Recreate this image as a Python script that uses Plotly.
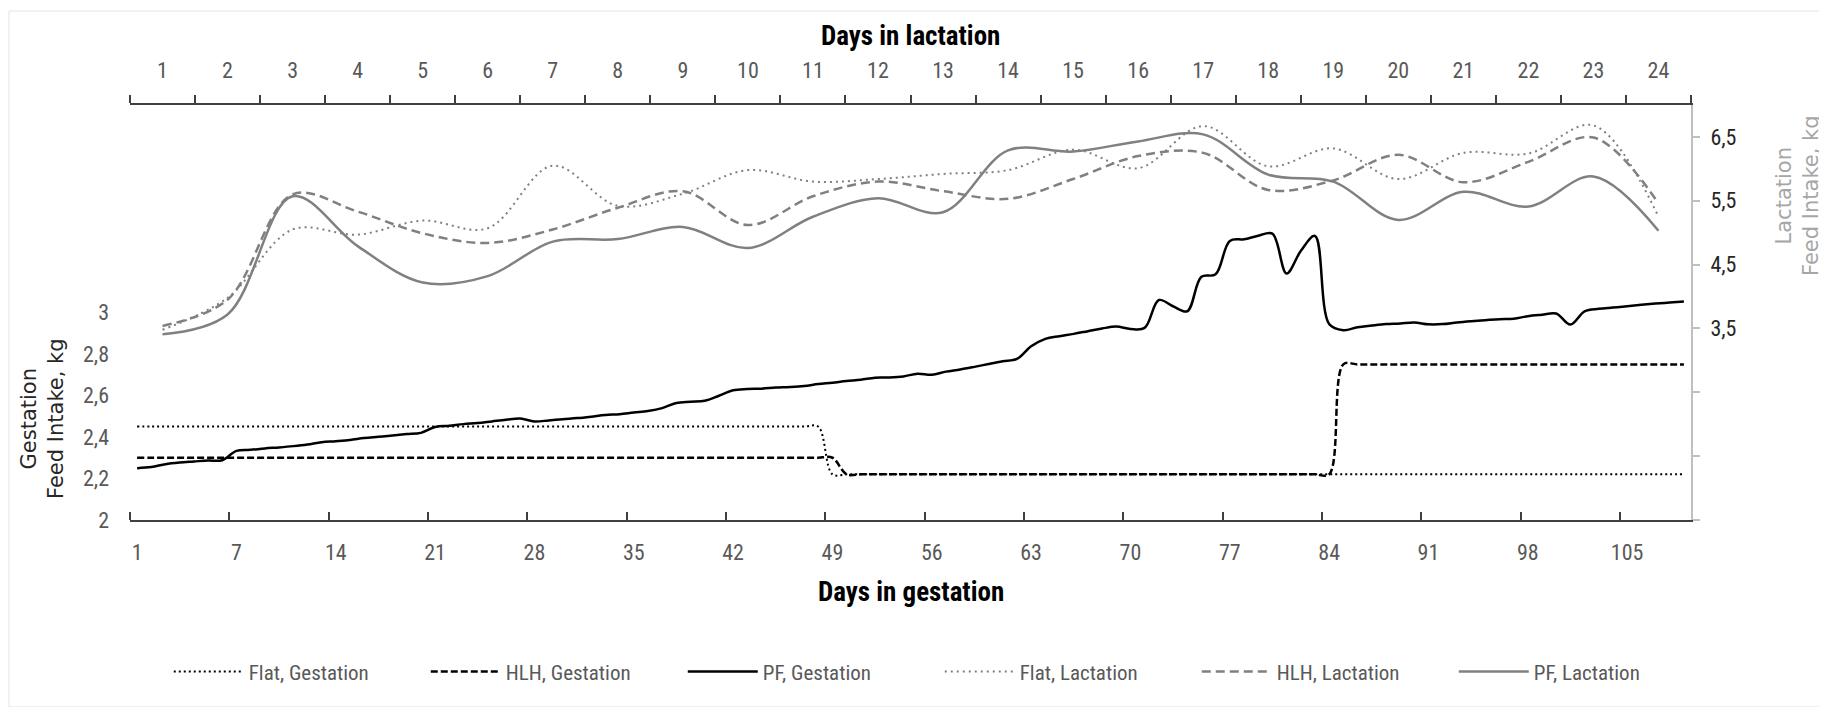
import plotly.graph_objects as go

# gestation feed intake, kg (one value per day index, 110 days)
flat_gestation = [
    2.45, 2.45, 2.45, 2.45, 2.45, 2.45, 2.45, 2.45, 2.45, 2.45,
    2.45, 2.45, 2.45, 2.45, 2.45, 2.45, 2.45, 2.45, 2.45, 2.45,
    2.45, 2.45, 2.45, 2.45, 2.45, 2.45, 2.45, 2.45, 2.45, 2.45,
    2.45, 2.45, 2.45, 2.45, 2.45, 2.45, 2.45, 2.45, 2.45, 2.45,
    2.45, 2.45, 2.45, 2.45, 2.45, 2.45, 2.45, 2.45, 2.45, 2.22,
    2.22, 2.22, 2.22, 2.22, 2.22, 2.22, 2.22, 2.22, 2.22, 2.22,
    2.22, 2.22, 2.22, 2.22, 2.22, 2.22, 2.22, 2.22, 2.22, 2.22,
    2.22, 2.22, 2.22, 2.22, 2.22, 2.22, 2.22, 2.22, 2.22, 2.22,
    2.22, 2.22, 2.22, 2.22, 2.22, 2.22, 2.22, 2.22, 2.22, 2.22,
    2.22, 2.22, 2.22, 2.22, 2.22, 2.22, 2.22, 2.22, 2.22, 2.22,
    2.22, 2.22, 2.22, 2.22, 2.22, 2.22, 2.22, 2.22, 2.22, 2.22,
]
hlh_gestation = [
    2.30, 2.30, 2.30, 2.30, 2.30, 2.30, 2.30, 2.30, 2.30, 2.30,
    2.30, 2.30, 2.30, 2.30, 2.30, 2.30, 2.30, 2.30, 2.30, 2.30,
    2.30, 2.30, 2.30, 2.30, 2.30, 2.30, 2.30, 2.30, 2.30, 2.30,
    2.30, 2.30, 2.30, 2.30, 2.30, 2.30, 2.30, 2.30, 2.30, 2.30,
    2.30, 2.30, 2.30, 2.30, 2.30, 2.30, 2.30, 2.30, 2.30, 2.30,
    2.22, 2.22, 2.22, 2.22, 2.22, 2.22, 2.22, 2.22, 2.22, 2.22,
    2.22, 2.22, 2.22, 2.22, 2.22, 2.22, 2.22, 2.22, 2.22, 2.22,
    2.22, 2.22, 2.22, 2.22, 2.22, 2.22, 2.22, 2.22, 2.22, 2.22,
    2.22, 2.22, 2.22, 2.22, 2.22, 2.75, 2.75, 2.75, 2.75, 2.75,
    2.75, 2.75, 2.75, 2.75, 2.75, 2.75, 2.75, 2.75, 2.75, 2.75,
    2.75, 2.75, 2.75, 2.75, 2.75, 2.75, 2.75, 2.75, 2.75, 2.75,
]
pf_gestation = [
    2.250, 2.255, 2.269, 2.277, 2.282, 2.287, 2.288, 2.333, 2.338, 2.345,
    2.350, 2.356, 2.364, 2.375, 2.380, 2.386, 2.395, 2.401, 2.407, 2.414,
    2.420, 2.448, 2.454, 2.462, 2.467, 2.475, 2.483, 2.489, 2.475, 2.480,
    2.486, 2.491, 2.498, 2.506, 2.510, 2.518, 2.525, 2.539, 2.564, 2.570,
    2.575, 2.599, 2.625, 2.631, 2.633, 2.638, 2.641, 2.646, 2.655, 2.662,
    2.670, 2.676, 2.686, 2.687, 2.692, 2.705, 2.700, 2.715, 2.725, 2.738,
    2.752, 2.765, 2.776, 2.837, 2.873, 2.886, 2.897, 2.910, 2.923, 2.932,
    2.921, 2.926, 3.060, 3.030, 3.006, 3.172, 3.184, 3.345, 3.353, 3.370,
    3.380, 3.188, 3.296, 3.369, 2.945, 2.915, 2.929, 2.937, 2.944, 2.947,
    2.952, 2.943, 2.944, 2.952, 2.958, 2.963, 2.968, 2.970, 2.982, 2.989,
    2.995, 2.942, 3.006, 3.018, 3.024, 3.030, 3.037, 3.043, 3.048, 3.053,
]
gestation_tick_pos = [0, 7, 14, 21, 28, 35, 42, 49, 56, 63, 70, 77, 84, 91, 98, 105]
gestation_tick_labels = ["1", "7", "14", "21", "28", "35", "42", "49",
                         "56", "63", "70", "77", "84", "91", "98", "105"]

# lactation feed intake, kg (days 1-24)
lactation_days = [str(d) for d in range(1, 25)]
flat_lactation = [3.48, 3.98, 5.05, 4.97, 5.19, 5.07, 6.05, 5.42, 5.61, 5.98, 5.80, 5.84,
                  5.92, 5.98, 6.30, 6.01, 6.67, 6.04, 6.32, 5.84, 6.25, 6.24, 6.68, 5.25]
hlh_lactation = [3.54, 3.95, 5.60, 5.33, 4.99, 4.84, 5.05, 5.39, 5.65, 5.12, 5.57, 5.80,
                 5.65, 5.53, 5.84, 6.20, 6.25, 5.67, 5.82, 6.22, 5.79, 6.11, 6.49, 5.46]
pf_lactation = [3.41, 3.72, 5.57, 4.79, 4.22, 4.32, 4.86, 4.90, 5.09, 4.76, 5.25, 5.54,
                5.32, 6.29, 6.27, 6.43, 6.54, 5.91, 5.80, 5.20, 5.64, 5.41, 5.88, 5.03]

gestation_ticks = [2, 2.2, 2.4, 2.6, 2.8, 3]
gestation_tick_text = ["2", "2,2", "2,4", "2,6", "2,8", "3"]
lactation_ticks = [0.5, 1.5, 2.5, 3.5, 4.5, 5.5, 6.5]
lactation_tick_text = ["", "", "", "3,5", "4,5", "5,5", "6,5"]

FONT = "Liberation Sans Narrow, Roboto Condensed, Roboto, sans-serif"
TITLE_FONT = "DejaVu Sans, sans-serif"
GREY = "#808080"

gest_x = list(range(len(pf_gestation)))
lact_x = list(range(len(lactation_days)))

fig = go.Figure()

gestation_series = [
    ("Flat, Gestation", flat_gestation, "2px,3px", 2),
    ("HLH, Gestation", hlh_gestation, "7px,3px", 2.5),
    ("PF, Gestation", pf_gestation, "solid", 2.5),
]
for name, values, dash, width in gestation_series:
    fig.add_trace(go.Scatter(
        x=gest_x, y=values, name=name, mode="lines",
        line=dict(color="black", width=width, dash=dash, shape="spline", smoothing=1),
        xaxis="x", yaxis="y",
    ))

lactation_series = [
    ("Flat, Lactation", flat_lactation, "2px,4px", 2),
    ("HLH, Lactation", hlh_lactation, "9px,5px", 2.5),
    ("PF, Lactation", pf_lactation, "solid", 2.5),
]
for name, values, dash, width in lactation_series:
    fig.add_trace(go.Scatter(
        x=lact_x, y=values, name=name, mode="lines",
        line=dict(color=GREY, width=width, dash=dash, shape="spline", smoothing=1),
        xaxis="x2", yaxis="y2",
    ))

fig.update_layout(
    width=1827, height=707,
    margin=dict(l=122, r=144, t=97, b=195),
    paper_bgcolor="white", plot_bgcolor="white",
    font=dict(family=FONT, size=22, color="#595959"),
    showlegend=True,
    legend=dict(orientation="h", xref="container", yref="container",
                x=0.51, xanchor="center", y=0.061, yanchor="middle",
                font=dict(size=21, color="#595959"), entrywidth=172, itemwidth=70,
                traceorder="normal"),
    xaxis=dict(
        range=[-0.5, len(gest_x) - 0.5], tickmode="array",
        tickvals=gestation_tick_pos, ticktext=gestation_tick_labels, ticks="",
        showgrid=False, zeroline=False,
        showline=True, linecolor="#404040", linewidth=2, ticklabelstandoff=12,
        minor=dict(tick0=-0.5, dtick=7, ticks="inside", ticklen=8, tickcolor="#404040",
                   tickwidth=1.5, showgrid=False),
    ),
    xaxis2=dict(
        overlaying="x", side="top", range=[-0.5, len(lact_x) - 0.5], tickmode="array",
        tickvals=lact_x, ticktext=lactation_days, ticks="", showgrid=False,
        zeroline=False, showline=True, linecolor="#404040", linewidth=2,
        ticklabelstandoff=16,
        minor=dict(tick0=-0.5, dtick=1, ticks="outside", ticklen=8, tickcolor="#404040",
                   tickwidth=1.5, showgrid=False),
    ),
    yaxis=dict(
        range=[2, 4], tickmode="array", tickvals=gestation_ticks,
        ticktext=gestation_tick_text, ticks="", showgrid=False, zeroline=False,
        showline=False, ticklabelstandoff=20,
    ),
    yaxis2=dict(
        overlaying="y", side="right", range=[0.5, 7], tickmode="array",
        tickvals=lactation_ticks, ticktext=lactation_tick_text, ticks="outside",
        ticklen=7, tickcolor="#bfbfbf", tickwidth=1.5, showgrid=False, zeroline=False,
        showline=True, linecolor="#bfbfbf", linewidth=2, ticklabelstandoff=6,
        tickfont=dict(color="#262626"),
    ),
    annotations=[
        dict(text="<b>Days in gestation</b>", xref="paper", yref="paper", x=0.5, y=0,
             yanchor="middle", yshift=-72, showarrow=False,
             font=dict(size=27, color="black")),
        dict(text="<b>Days in lactation</b>", xref="paper", yref="paper", x=0.5, y=1,
             yanchor="middle", yshift=69, showarrow=False,
             font=dict(size=27, color="black")),
        dict(text="Gestation<br>Feed Intake, kg", xref="paper", yref="paper", x=0, y=0,
             xanchor="center", yanchor="middle", xshift=-88, yshift=101, textangle=-90,
             showarrow=False, font=dict(family=TITLE_FONT, size=21, color="#262626")),
        dict(text="Lactation<br>Feed Intake, kg", xref="paper", yref="paper", x=1, y=0,
             xanchor="center", yanchor="middle", xshift=106, yshift=324, textangle=-90,
             showarrow=False, font=dict(family=TITLE_FONT, size=21, color="#a6a6a6")),
    ],
    shapes=[
        dict(type="rect", xref="paper", yref="paper",
             x0=-121 / 1561, x1=1 + 131 / 1561, y0=-187 / 415, y1=1 + 94 / 415,
             line=dict(color="#e3e3e3", width=1), layer="below"),
    ],
)

fig.write_html("out.html")
